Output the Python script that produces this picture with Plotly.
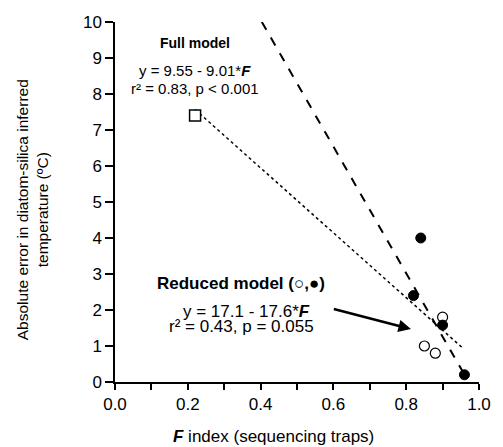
import plotly.graph_objects as go

# Data
full_x = [0.22]
full_y = [7.4]
open_x = [0.90, 0.85, 0.88]
open_y = [1.8, 1.0, 0.8]
filled_x = [0.84, 0.82, 0.90, 0.96]
filled_y = [4.0, 2.4, 1.58, 0.2]

full_a, full_b = 9.55, -9.01
red_a, red_b = 17.1, -17.6
full_line_x = [0.22, 0.955]
red_line_x = [(10 - red_a) / red_b, 0.955]

x_ticks = [0.0, 0.2, 0.4, 0.6, 0.8, 1.0]
y_ticks = list(range(0, 11))

FONT = "Liberation Sans, Arial, sans-serif"
W, H = 503, 447
ML, MR, MT, MB = 115, 14, 22, 65
PW, PH = W - ML - MR, H - MT - MB


def px_to_paper(px, py):
    return (px - ML) / PW, (H - MB - py) / PH


fig = go.Figure()
fig.add_trace(go.Scatter(x=full_line_x, y=[full_a + full_b * v for v in full_line_x],
                         mode="lines", line=dict(color="black", width=1.5, dash="dot"),
                         showlegend=False, hoverinfo="skip"))
fig.add_trace(go.Scatter(x=red_line_x, y=[red_a + red_b * v for v in red_line_x],
                         mode="lines", line=dict(color="black", width=2, dash="dash"),
                         showlegend=False, hoverinfo="skip"))
fig.add_trace(go.Scatter(x=full_x, y=full_y, mode="markers",
                         marker=dict(symbol="square", size=11, color="white",
                                     line=dict(color="black", width=1.5)), showlegend=False))
fig.add_trace(go.Scatter(x=open_x, y=open_y, mode="markers",
                         marker=dict(symbol="circle", size=10, color="white",
                                     line=dict(color="black", width=1.2)), showlegend=False))
fig.add_trace(go.Scatter(x=filled_x, y=filled_y, mode="markers",
                         marker=dict(symbol="circle", size=10, color="black",
                                     line=dict(color="black", width=1)), showlegend=False))

ann = [
    dict(x=0.219, y=9.43, text="<b>Full model</b>", font_size=14),
    dict(x=0.219, y=8.65, text="y = 9.55 - 9.01*<b><i>F</i></b>", font_size=15),
    dict(x=0.219, y=8.15, text="r² = 0.83, p < 0.001", font_size=15),
    dict(x=0.347, y=2.75, text="<b>Reduced model (○,●)</b>", font_size=17),
    dict(x=0.36, y=1.97, text="y = 17.1 - 17.6*<b><i>F</i></b>", font_size=17),
    dict(x=0.347, y=1.54, text="r² = 0.43, p = 0.055", font_size=17),
]
annotations = []
for a in ann:
    annotations.append(dict(x=a["x"], y=a["y"], xref="x", yref="y", text=a["text"],
                            xanchor="center", yanchor="middle",
                            showarrow=False, font=dict(family=FONT, size=a["font_size"], color="black")))
annotations.append(dict(x=0.813, y=1.47, ax=0.597, ay=2.04, xref="x", yref="y",
                        axref="x", ayref="y", text="", showarrow=True, arrowhead=2,
                        arrowsize=1, arrowwidth=2.5, arrowcolor="black"))
tx, ty = px_to_paper(278, 437)
annotations.append(dict(x=tx, y=ty, xref="paper", yref="paper",
                        xanchor="center", yanchor="middle",
                        text="<b><i>F</i></b> index (sequencing traps)",
                        showarrow=False, font=dict(family=FONT, size=17, color="black")))
yx, yy = px_to_paper(31, 210)
annotations.append(dict(x=yx, y=yy, xref="paper", yref="paper", textangle=-90,
                        xanchor="center", yanchor="middle",
                        text="Absolute error in diatom-silica inferred<br>temperature (ºC)",
                        showarrow=False, font=dict(family=FONT, size=15.5, color="black")))

fig.update_layout(
    width=W, height=H,
    margin=dict(l=ML, r=MR, t=MT, b=MB),
    paper_bgcolor="white", plot_bgcolor="white",
    font=dict(family=FONT, size=17, color="black"),
    annotations=annotations,
    xaxis=dict(range=[0, 1.0], tickvals=x_ticks, ticktext=[f"{v:.1f}" for v in x_ticks],
               showgrid=False, zeroline=False, showline=True, linecolor="black", linewidth=1.5,
               ticks="outside", ticklen=6, tickcolor="black", tickwidth=1.5,
               minor=dict(dtick=0.1, ticks="outside", ticklen=6, tickcolor="black", tickwidth=1.5),
               tickfont=dict(size=17)),
    yaxis=dict(range=[0, 10], tickvals=y_ticks, showgrid=False, zeroline=False, showline=True,
               linecolor="black", linewidth=1.5, ticks="outside", ticklen=8, tickcolor="black",
               tickwidth=1.5, tickfont=dict(size=17)),
)

fig.write_html("out.html")
